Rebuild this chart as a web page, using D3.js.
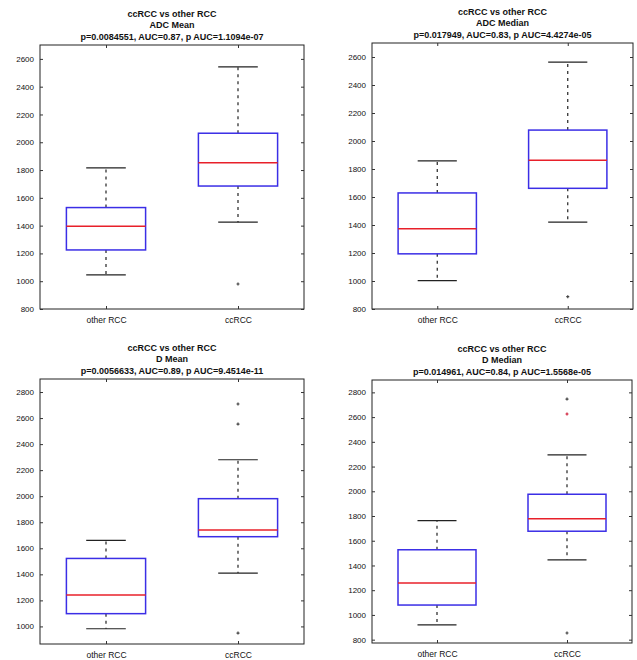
<!DOCTYPE html>
<html>
<head>
<meta charset="utf-8">
<script src="https://cdn.jsdelivr.net/npm/d3@7"></script>
<style>
  body { margin: 0; background: #fff; }
  text { font-family: "Liberation Sans", Arial, sans-serif; fill: #111; }
  .title { font-size: 9px; font-weight: bold; }
  .tick { font-size: 8px; }
</style>
</head>
<body>
<div id="chart"></div>
<script>
// ----- data -------
const categories = ["other RCC", "ccRCC"];

const titleLine1 = ["ccRCC vs other RCC", "ccRCC vs other RCC", "ccRCC vs other RCC", "ccRCC vs other RCC"];
const titleLine2 = ["ADC Mean", "ADC Median", "D Mean", "D Median"];
const titleLine3 = [
  "p=0.0084551, AUC=0.87, p AUC=1.1094e-07",
  "p=0.017949, AUC=0.83, p AUC=4.4274e-05",
  "p=0.0056633, AUC=0.89, p AUC=9.4514e-11",
  "p=0.014961, AUC=0.84, p AUC=1.5568e-05"
];

// [lower whisker, Q1, median, Q3, upper whisker]
const adcMeanOther   = [1045, 1225, 1395, 1530, 1815];
const adcMeanCc      = [1425, 1685, 1852, 2065, 2542];
const adcMedianOther = [1003, 1194, 1373, 1629, 1858];
const adcMedianCc    = [1421, 1662, 1863, 2078, 2563];
const dMeanOther     = [982, 1098, 1241, 1522, 1660];
const dMeanCc        = [1410, 1689, 1740, 1981, 2280];
const dMedianOther   = [919, 1080, 1258, 1527, 1763];
const dMedianCc      = [1446, 1677, 1777, 1976, 2294];

// outliers per panel: [category, value]
const adcMeanOutliers   = [["ccRCC", 980]];
const adcMedianOutliers = [["ccRCC", 888]];
const dMeanOutliers     = [["ccRCC", 2708], ["ccRCC", 2554], ["ccRCC", 949]];
const dMedianOutliers   = [["ccRCC", 2746], ["ccRCC", 2625], ["ccRCC", 854]];
const redOutliers       = [2625];

const yDomains = [[800, 2700], [800, 2700], [865, 2900], [773, 2900]];
const yTicks = [
  [800, 1000, 1200, 1400, 1600, 1800, 2000, 2200, 2400, 2600],
  [800, 1000, 1200, 1400, 1600, 1800, 2000, 2200, 2400, 2600],
  [1000, 1200, 1400, 1600, 1800, 2000, 2200, 2400, 2600, 2800],
  [800, 1000, 1200, 1400, 1600, 1800, 2000, 2200, 2400, 2600, 2800]
];

const boxStats = [
  [adcMeanOther, adcMeanCc],
  [adcMedianOther, adcMedianCc],
  [dMeanOther, dMeanCc],
  [dMedianOther, dMedianCc]
];
const outlierSets = [adcMeanOutliers, adcMedianOutliers, dMeanOutliers, dMedianOutliers];

// panel frames (left, right, top, bottom)
const frames = [
  [40, 304, 45, 309],
  [372, 633, 43, 309],
  [40, 304, 379, 644],
  [372, 632, 380, 643]
];

const svg = d3.select("#chart").append("svg").attr("width", 637).attr("height", 660);

frames.forEach(function (f, i) {
  const [L, R, T, B] = f;
  const g = svg.append("g");

  const x = d3.scalePoint().domain(categories).range([L, R]).padding(0.5);
  const y = d3.scaleLinear().domain(yDomains[i]).range([B, T]);
  const boxW = (R - L) * 0.15;

  // ----- titles -------
  const cx = (L + R) / 2;
  const ty = T - 28;
  [titleLine1[i], titleLine2[i], titleLine3[i]].forEach(function (t, k) {
    g.append("text")
      .attr("class", "title")
      .attr("x", cx)
      .attr("y", ty + k * 11.3)
      .attr("text-anchor", "middle")
      .text(t);
  });

  // ----- frame -------
  g.append("rect")
    .attr("x", L).attr("y", T)
    .attr("width", R - L).attr("height", B - T)
    .attr("fill", "none")
    .attr("stroke", "#222")
    .attr("stroke-width", 1);

  // ----- axes -------
  const yLeft = g.append("g").attr("transform", "translate(" + L + ",0)")
    .call(d3.axisLeft(y).tickValues(yTicks[i]).tickSize(-3).tickPadding(6).tickFormat(d3.format("d")));
  const yRight = g.append("g").attr("transform", "translate(" + R + ",0)")
    .call(d3.axisRight(y).tickValues(yTicks[i]).tickSize(-3).tickFormat(""));
  const xBottom = g.append("g").attr("transform", "translate(0," + B + ")")
    .call(d3.axisBottom(x).tickSize(-3).tickPadding(8));
  const xTop = g.append("g").attr("transform", "translate(0," + T + ")")
    .call(d3.axisTop(x).tickSize(-3).tickFormat(""));

  [yLeft, yRight, xBottom, xTop].forEach(function (a) {
    a.select(".domain").remove();
    a.selectAll("line").attr("stroke", "#333");
    a.selectAll("text").attr("class", "tick").attr("fill", "#111")
      .style("font-family", "'Liberation Sans', Arial, sans-serif").style("font-size", "8px");
  });
  xBottom.selectAll("text").style("font-size", "8.5px");

  // ----- boxes -------
  categories.forEach(function (c, j) {
    const s = boxStats[i][j];
    const px = x(c);

    // whiskers
    g.append("line")
      .attr("x1", px).attr("x2", px)
      .attr("y1", y(s[3])).attr("y2", y(s[4]))
      .attr("stroke", "#222").attr("stroke-width", 1.2).attr("stroke-dasharray", "3,4");
    g.append("line")
      .attr("x1", px).attr("x2", px)
      .attr("y1", y(s[1])).attr("y2", y(s[0]))
      .attr("stroke", "#222").attr("stroke-width", 1.2).attr("stroke-dasharray", "3,4");

    // caps
    [s[0], s[4]].forEach(function (v) {
      g.append("line")
        .attr("x1", px - boxW / 2).attr("x2", px + boxW / 2)
        .attr("y1", y(v)).attr("y2", y(v))
        .attr("stroke", "#222").attr("stroke-width", 1.2);
    });

    // box
    g.append("rect")
      .attr("x", px - boxW).attr("y", y(s[3]))
      .attr("width", boxW * 2).attr("height", y(s[1]) - y(s[3]))
      .attr("fill", "none")
      .attr("stroke", "#3b2ee6").attr("stroke-width", 1.5);

    // median
    g.append("line")
      .attr("x1", px - boxW).attr("x2", px + boxW)
      .attr("y1", y(s[2])).attr("y2", y(s[2]))
      .attr("stroke", "#e8202a").attr("stroke-width", 1.5);
  });

  // ----- outliers -------
  outlierSets[i].forEach(function (o) {
    const px = x(o[0]), py = y(o[1]);
    const col = redOutliers.includes(o[1]) ? "#d0203a" : "#444";
    g.append("path")
      .attr("d", "M" + (px - 1.5) + "," + py + "h3M" + px + "," + (py - 1.5) + "v3")
      .attr("stroke", col).attr("stroke-width", 1.2);
  });
});
</script>
</body>
</html>
